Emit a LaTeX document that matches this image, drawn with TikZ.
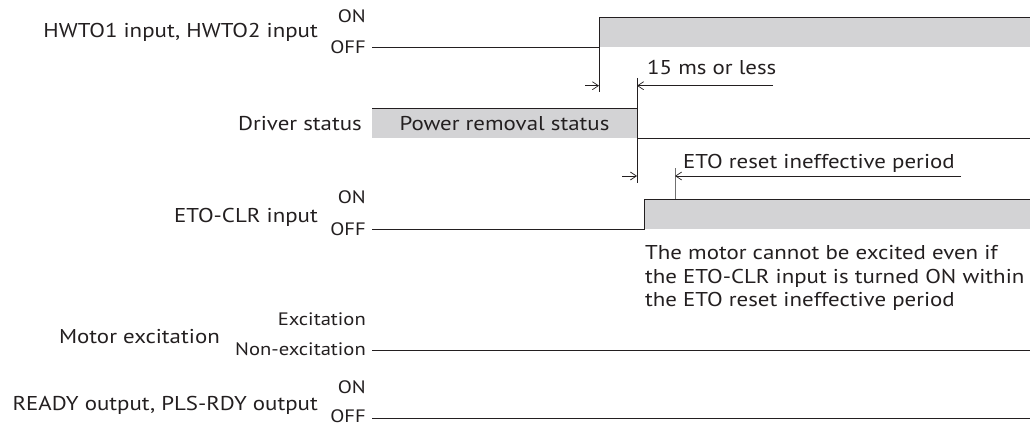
\documentclass[tikz,border=0pt]{standalone}
\usepackage{fontspec}
\setmainfont{PT Sans}[FakeStretch=1.145]
\usetikzlibrary{arrows.meta}
\definecolor{sig}{HTML}{D3D3D5}
\definecolor{ink}{HTML}{231F20}
\definecolor{tickgray}{HTML}{707070}
\begin{document}
\begin{tikzpicture}[x=1pt,y=-1pt,
  lbl/.style={font=\fontsize{20}{24}\selectfont, text=ink, inner sep=0pt, anchor=base east},
  lvl/.style={font=\fontsize{18}{21}\selectfont, text=ink, inner sep=0pt, anchor=base east},
  note/.style={font=\fontsize{20}{24}\selectfont, text=ink, inner sep=0pt, anchor=base west},
  wave/.style={draw=ink, line width=0.9pt},
  hifill/.style={fill=sig},
  ext/.style={draw=ink, line width=0.7pt},
  dimline/.style={draw=ink, line width=0.7pt, -{Straight Barb[length=6pt,width=8pt,line width=0.7pt]}}
]
\useasboundingbox (0,0) rectangle (1030,425);

% ---- labels
\node[lbl] (hwto) at (318,38) {HWTO1 input, HWTO2 input};
\node[lvl] (hwtoon) at (366,22.7) {ON};
\node[lvl] (hwtooff) at (366,53.3) {OFF};

\node[lbl] (drv) at (362,131) {Driver status};

\node[lbl] (eto) at (318,222) {ETO-CLR input};
\node[lvl] (etoon) at (366,203) {ON};
\node[lvl] (etooff) at (366,235) {OFF};

\node[lbl] (mot) at (220,343) {Motor excitation};
\node[lvl] (moton) at (366,325) {Excitation};
\node[lvl] (motoff) at (366,355.7) {Non-excitation};

\node[lbl] (rdy) at (318,410.7) {READY output, PLS-RDY output};
\node[lvl] (rdyon) at (366,393) {ON};
\node[lvl] (rdyoff) at (366,422) {OFF};

% ---- waveforms
\fill[hifill] (599,17) rectangle (1030,47);
\draw[wave] (372,47) coordinate (h0) -- (599,47) coordinate (hr) -- (599,17) -- (1030,17);

\fill[hifill] (372,108) rectangle (637,138);
\draw[wave] (372,108) -- (637,108) -- (637,138) coordinate (dr) -- (1030,138);
\node[note, anchor=base] (prs) at (504.5,131) {Power removal status};

\fill[hifill] (644,199) rectangle (1030,229);
\draw[wave] (372,229) -- (644,229) -- (644,199) coordinate (er) -- (1030,199);

\draw[wave] (372,350) coordinate (m0) -- (1030,350) coordinate (m1);
\draw[wave] (372,418) coordinate (r0) -- (1030,418) coordinate (r1);

% ---- dimension 1
\coordinate (e1a) at (599,92);
\coordinate (e2a) at (637,78);
\coordinate (e2b) at (637,183);
\draw[ext] (hr) -- (e1a);
\draw[ext] (e2a) -- (e2b);
\coordinate (a1s) at (585,85.7);
\coordinate (a1e) at (599,85.7);
\coordinate (a2s) at (773,85.7);
\coordinate (a2e) at (637,85.7);
\draw[dimline] (a1s) -- (a1e);
\draw[dimline] (a2s) -- (a2e);
\node[note] (t15) at (647,75) {15 ms or less};

% ---- dimension 2
\coordinate (g1) at (675,168);
\coordinate (g2) at (675,199);
\draw[ext, draw=tickgray] (g1) -- (g2);
\coordinate (b1s) at (622,176);
\coordinate (b1e) at (637,176);
\coordinate (b2s) at (961,176);
\coordinate (b2e) at (675,176);
\draw[dimline] (b1s) -- (b1e);
\draw[dimline] (b2s) -- (b2e);
\node[note] (tper) at (683,168) {ETO reset ineffective period};

% ---- note
\node[note] (n1) at (645,259) {The motor cannot be excited even if};
\node[note] (n2) at (645,283) {the ETO-CLR input is turned ON within};
\node[note] (n3) at (645,306.7) {the ETO reset ineffective period};
\end{tikzpicture}
\end{document}
